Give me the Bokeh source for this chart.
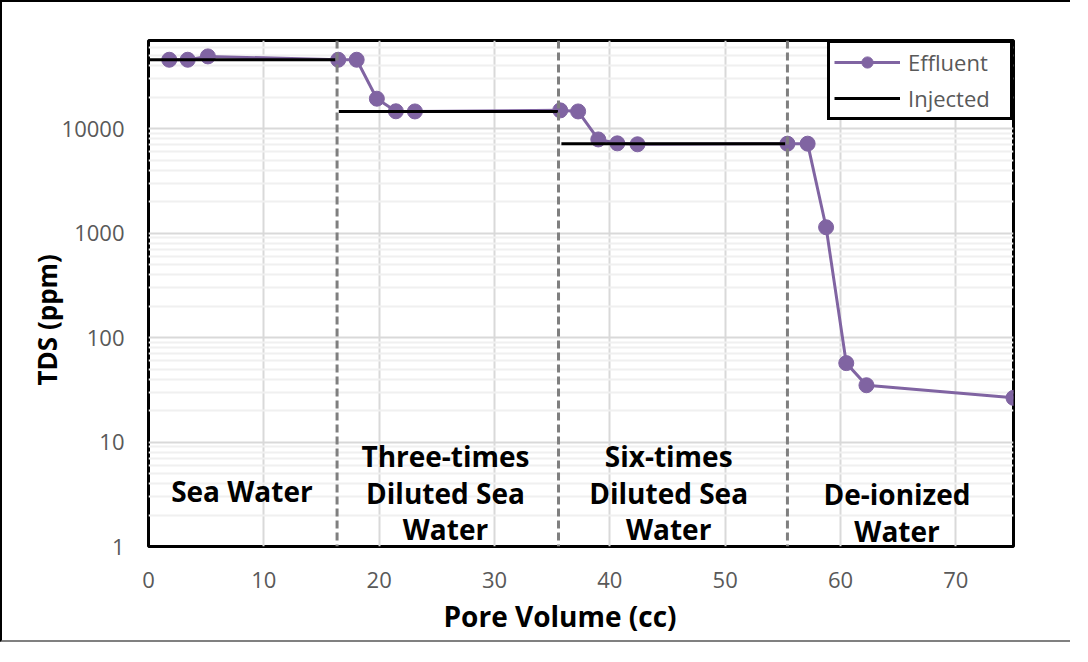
import math
from bokeh.plotting import figure
from bokeh.models import (FixedTicker, Span, Label, Legend, LegendItem,
                          Range1d, CustomJSTickFormatter, Title)
from bokeh.embed import file_html
from bokeh.resources import INLINE

# ---------------- data ----------------
eff_x = [1.8, 3.4, 5.15, 16.45, 18.05, 19.8, 21.45, 23.1,
         35.7, 37.25, 39.0, 40.65, 42.4, 55.4, 57.15, 58.75, 60.5, 62.25, 75.0]
eff_y = [45800, 45800, 49300, 45800, 45800, 19400, 14700, 14650,
         15000, 14650, 7900, 7250, 7100, 7200, 7200, 1140, 57, 35, 26.5]

inj_xs = [[0.0, 16.2], [16.5, 35.5], [35.8, 55.2]]
inj_ys = [[45800, 45800], [14600, 14600], [7200, 7200]]

boundaries = [16.35, 35.55, 55.4]

x_ticks = [0, 10, 20, 30, 40, 50, 60, 70]
y_ticks = [1, 10, 100, 1000, 10000]
y_tick_labels = ["1", "10", "100", "1000", "10000"]

region_lines = [["Sea Water"],
                ["Three-times", "Diluted Sea", "Water"],
                ["Six-times", "Diluted Sea", "Water"],
                ["De-ionized", "Water"]]
region_centers = [8.1, 25.75, 45.1, 64.9]

series_names = ["Effluent", "Injected"]
x_title = "Pore Volume (cc)"
y_title = "TDS (ppm)"

# ---------------- styles ----------------
PURPLE = "#8064A2"
GRAY_TXT = "#595959"
FONT = "Open Sans"

p = figure(width=1070, height=642, output_backend="svg", toolbar_location=None,
           y_axis_type="log", x_range=Range1d(0, 75), y_range=Range1d(1, 70000),
           min_border_left=146, min_border_right=59, min_border_top=38,
           min_border_bottom=98)
p.styles = {"border-top": "2px solid black", "border-left": "2px solid black",
            "border-bottom": "2px solid #808080"}
p.background_fill_color = "white"
p.border_fill_color = "white"
p.outline_line_color = "black"
p.outline_line_width = 3

# grids
p.xgrid.ticker = FixedTicker(ticks=x_ticks)
p.xgrid.grid_line_color = "#d9d9d9"
p.xgrid.grid_line_width = 2
minor = [m * 10 ** k for k in range(0, 5) for m in range(2, 10)]
p.ygrid.ticker = FixedTicker(ticks=y_ticks, minor_ticks=minor)
p.ygrid.grid_line_color = "#d9d9d9"
p.ygrid.grid_line_width = 2
p.ygrid.minor_grid_line_color = "#f0f0f0"
p.ygrid.minor_grid_line_width = 2

# axes
p.xaxis.ticker = FixedTicker(ticks=x_ticks)
p.yaxis.ticker = FixedTicker(ticks=y_ticks)
p.yaxis.formatter = CustomJSTickFormatter(args=dict(labels=y_tick_labels),
                                          code="return labels[index];")
for ax in (p.xaxis, p.yaxis):
    ax.axis_line_color = None
    ax.major_tick_line_color = None
    ax.minor_tick_line_color = None
    ax.major_tick_out = 0
    ax.major_tick_in = 0
    ax.minor_tick_out = 0
    ax.major_label_text_font = FONT
    ax.major_label_text_font_size = "22px"
    ax.major_label_text_color = GRAY_TXT
p.yaxis.major_label_standoff = 24
p.xaxis.major_label_standoff = 25

# axis titles as side titles
p.add_layout(Title(text=x_title, align="left", offset=295, standoff=8,
                   text_font=FONT, text_font_style="bold",
                   text_font_size="28px", text_color="black"), "below")
p.add_layout(Title(text=y_title, align="left", offset=161, standoff=-13,
                   text_font=FONT, text_font_style="bold",
                   text_font_size="26px", text_color="black"), "left")

# glyphs
eff_line = p.line(eff_x, eff_y, line_color=PURPLE, line_width=3)
eff_pts = p.scatter(eff_x, eff_y, size=15, fill_color=PURPLE, line_color=PURPLE)
inj = p.multi_line(inj_xs, inj_ys, line_color="black", line_width=3)

for b in boundaries:
    p.add_layout(Span(location=b, dimension="height", line_color="#7f7f7f",
                      line_width=3, line_dash="8 4"))

# region labels (baselines in px above frame bottom)
base_by_count = {1: [56], 2: [53, 16], 3: [91, 54, 18]}
for lines, cx in zip(region_lines, region_centers):
    for txt, by in zip(lines, base_by_count[len(lines)]):
        p.add_layout(Label(x=cx, y=by, x_units="data", y_units="screen",
                           text=txt, text_align="center",
                           text_baseline="alphabetic", text_font=FONT,
                           text_font_style="bold", text_font_size="28px",
                           text_color="black"))

legend = Legend(items=[LegendItem(label=series_names[0], renderers=[eff_line, eff_pts]),
                       LegendItem(label=series_names[1], renderers=[inj])],
                location="top_right", margin=0, padding=4, spacing=6,
                glyph_width=66, glyph_height=28, label_height=28, label_width=98,
                label_standoff=8, label_text_font=FONT,
                label_text_font_size="22px", label_text_color=GRAY_TXT,
                border_line_color="black", border_line_width=3,
                border_line_alpha=1,
                background_fill_color="white", background_fill_alpha=1)
p.add_layout(legend)

open("out.html", "w").write(file_html(p, INLINE))
